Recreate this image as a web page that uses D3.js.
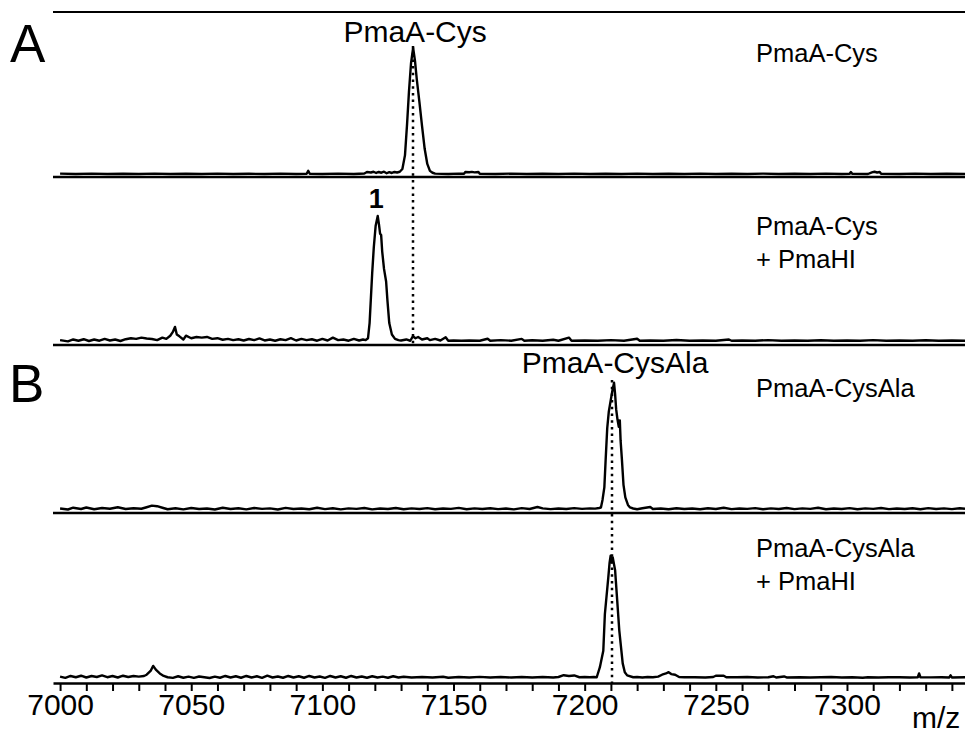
<!DOCTYPE html>
<html>
<head>
<meta charset="utf-8">
<script src="https://cdn.jsdelivr.net/npm/d3@7/dist/d3.min.js"></script>
<style>
  body { margin: 0; background: #fff; }
  svg text { font-family: "Liberation Sans", Arial, Helvetica, sans-serif; fill: #000; }
</style>
</head>
<body>
<svg id="chart" width="965" height="733"></svg>
<script>
// MALDI spectra, [m/z, relative intensity]
const specCys = [
  [7000,0.3],[7006,0],[7012,0.3],[7018,0],[7024,0.2],[7030,0],[7036,0.3],[7042,0],[7048,0.2],[7054,0],
  [7060,0.3],[7066,0],[7072,0.2],[7078,0],[7084,0.3],[7090,0],[7094,0.2],[7094.6,2.5],[7095.2,0.2],[7100,0],
  [7106,0.3],[7112,0],[7116,0.4],[7117,1.6],[7118.5,1.2],[7119.5,1.8],[7120.5,0.8],[7121.5,1.6],[7122.5,1.0],
  [7123.5,1.8],[7124.5,0.6],[7125.5,1.5],[7126.5,0.8],[7127.5,1.6],[7128.5,1.2],[7129.5,1.8],[7130.5,4],
  [7131.5,15],[7132.3,40],[7133,65],[7133.8,88],[7134.6,100],[7135.3,90],[7136,75],[7137,57],[7138,38],
  [7139,20],[7140,8],[7141,2.5],[7142,1],[7143,0.3],[7148,0],[7152,0.3],[7154,0.2],[7154.5,1.6],[7156,1.4],
  [7157,1.7],[7158,1.3],[7159.5,1.6],[7160,0.2],[7166,0],[7172,0.3],[7178,0],[7184,0.2],[7190,0],[7196,0.3],
  [7202,0],[7208,0.2],[7214,0],[7220,0.3],[7226,0],[7232,0.2],[7238,0],[7244,0.3],[7250,0],[7256,0.2],
  [7262,0],[7268,0.3],[7274,0],[7280,0.2],[7286,0],[7292,0.3],[7298,0],[7301,0.2],[7301.5,1.5],[7302,0.2],
  [7308,0],[7309.5,1.3],[7310.5,1.8],[7311.5,1.2],[7312.5,1.6],[7313,0.2],[7320,0],[7326,0.3],[7332,0],
  [7338,0.2],[7345,0]
];

const specCysHI = [
  [7000,1.5],[7003,0.5],[7005,2],[7007,1],[7009,2.2],[7011,0.8],[7013,2],[7015,1],[7017,2.5],[7019,1.2],
  [7021,2],[7023,0.8],[7025,2.2],[7027,3],[7029,2.5],[7031,3.5],[7033,2.8],[7035,2.4],[7037,1.5],[7039,3.5],
  [7040.5,2.5],[7042,5],[7043,8],[7043.8,12],[7044.5,6],[7045.5,4.5],[7047,2],[7048,5],[7050,3],[7052,4],
  [7054,3.5],[7056,4],[7058,2.5],[7060,3],[7062,1.8],[7064,2.5],[7066,1.5],[7068,2.2],[7070,1.2],[7072,2.4],
  [7074,1.5],[7076,2.8],[7078,1.2],[7080,2],[7082,1],[7084,2.2],[7086,1.5],[7088,3],[7090,1.2],[7092,2.5],
  [7094,1.5],[7096,2.2],[7098,1],[7100,2.5],[7102,1.2],[7104,3.5],[7106,1.5],[7108,2],[7110,1],[7112,2.5],
  [7114,1.2],[7115.5,2],[7116.5,1.5],[7117.4,3],[7118,15],[7118.5,35],[7119,55],[7119.6,75],[7120.3,92],
  [7121.1,100],[7121.6,93],[7122,86],[7122.4,85],[7122.8,72],[7123.5,58],[7124.3,48],[7124.8,33],[7125.5,15],
  [7126.5,6],[7127.7,2.5],[7129,1.5],[7130,1.2],[7132,2],[7133.5,1],[7134.5,4.5],[7135.5,3],[7136.5,4],
  [7138,2],[7140,3],[7141,1.5],[7143,2.5],[7145,1.2],[7147,3.8],[7148,1],[7150,1.2],[7153,1],[7156,1.2],
  [7160,1],[7163,2.6],[7164,1],[7168,1.5],[7172,1],[7176,2.5],[7177,1],[7180,1.4],[7184,1],[7188,1.8],
  [7190,1],[7194,3.5],[7195,1],[7200,1.2],[7205,1],[7210,1.5],[7215,1],[7220,2.6],[7221,1],[7225,1.2],
  [7230,1],[7235,1.6],[7240,1],[7245,1.2],[7250,1],[7255,2],[7256,1],[7260,1.2],[7265,1],[7270,1.5],
  [7275,1],[7280,1.2],[7285,1],[7290,1.4],[7295,1],[7300,1.2],[7305,1],[7310,1.5],[7315,1],[7320,1.2],
  [7325,1],[7330,1.4],[7335,1],[7340,1.2],[7345,1]
];

const specAla = [
  [7000,1.2],[7003,0.4],[7005,1.8],[7008,0.8],[7010,2],[7013,0.6],[7016,1.6],[7019,1],[7022,2.2],[7025,0.8],
  [7028,1.4],[7031,1],[7033,2.2],[7035,3.5],[7037,3],[7039,1.8],[7041,0.6],[7044,1.4],[7047,0.5],[7050,1.6],
  [7053,0.8],[7056,1.2],[7059,0.4],[7062,1.8],[7065,0.8],[7068,1.4],[7071,0.5],[7074,1.6],[7077,0.9],[7080,1.3],
  [7083,0.4],[7086,1.7],[7089,0.8],[7092,1.2],[7095,0.6],[7098,1.8],[7101,0.7],[7104,1.4],[7107,0.5],[7110,1.3],
  [7113,0.9],[7116,1.6],[7119,0.5],[7122,1.2],[7125,0.8],[7128,1.6],[7131,0.6],[7134,1.3],[7137,0.8],[7140,1.5],
  [7143,0.6],[7146,1.2],[7149,0.9],[7152,1.7],[7155,0.6],[7158,1.3],[7161,0.8],[7164,1.4],[7167,0.7],[7170,1.2],
  [7173,0.5],[7176,1.5],[7179,0.8],[7182,2.4],[7184,1.3],[7187,0.7],[7190,1.2],[7193,0.8],[7196,1.5],[7199,0.9],
  [7202,1.3],[7204,1.1],[7205.5,1.6],[7206.2,2],[7206.8,8],[7207.5,18],[7208,40],[7208.6,65],[7209.2,78],
  [7210,88],[7210.6,95],[7211.2,101],[7211.6,92],[7212,80],[7212.5,72],[7213,66],[7213.4,71],[7213.7,55],
  [7214.2,40],[7214.8,20],[7215.5,10],[7216.5,4],[7217.3,2],[7218.5,1.2],[7220,0.6],[7222,1.4],[7225,2.4],
  [7226,0.8],[7229,1.2],[7232,0.6],[7235,1.4],[7238,0.8],[7241,1.2],[7244,0.6],[7247,1.4],[7250,0.8],[7253,1.8],
  [7256,0.7],[7259,1.2],[7262,0.9],[7265,1.5],[7268,0.6],[7271,1.3],[7274,0.8],[7277,1.6],[7280,0.7],[7283,1.3],
  [7286,0.9],[7289,1.8],[7292,0.6],[7295,1.2],[7298,0.8],[7301,1.5],[7304,0.6],[7307,1.3],[7310,0.9],[7313,1.6],
  [7316,0.7],[7319,1.2],[7322,0.8],[7325,1.4],[7328,0.6],[7331,1.5],[7334,0.8],[7337,1.3],[7340,0.7],[7343,1.4],
  [7345,1]
];

const specAlaHI = [
  [7000,1.5],[7002,0.5],[7004,2],[7006,1],[7008,2.2],[7010,0.8],[7012,2],[7014,1.2],[7016,2.5],[7018,1],
  [7020,2],[7022,0.8],[7024,2.2],[7026,1.2],[7028,2],[7030,1.5],[7032,2],[7033,3],[7034.5,6],[7035.5,10],
  [7036.5,7],[7038,4],[7039.5,2],[7041,1],[7043,0.5],[7045,1.8],[7047,0.6],[7049,1.5],[7051,0.5],[7053,1.6],
  [7055,1],[7057,0.4],[7059,1.5],[7061,0.6],[7063,2],[7065,0.8],[7067,1.8],[7069,0.6],[7071,2],[7073,0.8],
  [7075,1.8],[7077,0.5],[7079,2.2],[7081,0.8],[7083,1.6],[7085,0.6],[7087,2],[7089,0.8],[7091,1.8],[7093,0.6],
  [7095,2],[7097,0.8],[7099,1.6],[7101,0.5],[7103,2],[7105,0.8],[7107,1.8],[7109,0.6],[7111,2],[7113,0.8],
  [7115,1.6],[7117,0.6],[7119,1.8],[7121,0.8],[7123,1.5],[7125,0.6],[7127,1.8],[7129,0.8],[7131,1.4],[7134,0.8],
  [7138,1.2],[7142,0.8],[7146,1.4],[7148,0.6],[7152,1.2],[7156,0.8],[7160,1.3],[7164,0.8],[7168,1.2],[7172,0.8],
  [7176,1.2],[7180,0.8],[7184,1.2],[7188,0.8],[7190,1.2],[7192,2.6],[7194,2],[7196,2.4],[7198,1],[7200,1.2],
  [7202,1],[7203.5,1.2],[7204.6,1],[7205.8,9],[7207.1,22],[7207.7,51],[7209,80],[7209.5,92],[7209.9,97.5],
  [7210.3,92],[7210.7,96],[7211.6,86],[7212.4,62],[7213.2,38],[7214.5,12],[7215.3,5],[7216.2,2.5],[7218.5,1],
  [7220,1.2],[7222,0.8],[7224,1.2],[7226,1],[7228,1.5],[7229.5,3],[7231,4],[7232,5],[7233,3.5],[7234.5,3],
  [7236,1.2],[7238,1],[7242,1],[7246,0.8],[7249,1.2],[7250,2.2],[7253,2.2],[7254,1],[7258,1],[7262,1.2],
  [7266,0.8],[7270,1],[7272,1.8],[7273,0.8],[7276,1.6],[7277,0.8],[7282,1],[7286,0.8],[7290,1],[7294,1.2],
  [7298,0.8],[7302,1],[7306,0.6],[7308,1],[7312,0.8],[7316,1],[7320,1],[7324,0.8],[7327,1],[7327.5,4],
  [7328,1],[7332,0.9],[7336,1],[7339,0.8],[7339.5,2.5],[7340,0.8],[7345,1]
];

const sampleLabels = [["PmaA-Cys"], ["PmaA-Cys", "+ PmaHI"], ["PmaA-CysAla"], ["PmaA-CysAla", "+ PmaHI"]];
const peakNames = ["PmaA-Cys", "1", "PmaA-CysAla"];
const peakMz = [7134.6, 7121.1, 7211.2];
const refMz = [7134.6, 7210.4];       // dotted guides, section A and B
const sectionNames = ["A", "B"];
const tickLabels = [7000, 7050, 7100, 7150, 7200, 7250, 7300];
const axisTitle = "m/z";

const svg = d3.select('#chart');

const xScale = d3.scaleLinear()
  .domain([6997.3, 7345])
  .range([53, 965]);

// one strip per spectrum: axis line y, spectrum baseline y
const panels = [
  { spec: specCys,   axisY: 177, base: 174,   labelY: [62] },
  { spec: specCysHI, axisY: 345, base: 342,   labelY: [235, 268] },
  { spec: specAla,   axisY: 513, base: 510,   labelY: [397] },
  { spec: specAlaHI, axisY: 683, base: 678.5, labelY: [557, 590] }
];

const line = d3.line()
  .x(d => xScale(d[0]))
  .y(d => d[1]);

// top border
svg.append('line')
  .attr('x1', 53).attr('x2', 965)
  .attr('y1', 12).attr('y2', 12)
  .attr('stroke', '#000').attr('stroke-width', 2);

panels.forEach((p, i) => {
  const yScale = d3.scaleLinear().domain([0, 100]).range([p.base, p.base - 126]);

  if (i < panels.length - 1) {
    svg.append('line')
      .attr('x1', 53).attr('x2', 965)
      .attr('y1', p.axisY).attr('y2', p.axisY)
      .attr('stroke', '#000').attr('stroke-width', 2.4);
  }

  svg.append('path')
    .datum(p.spec.map(d => [d[0], yScale(d[1])]))
    .attr('d', line)
    .attr('fill', 'none')
    .attr('stroke', '#000')
    .attr('stroke-width', 2.4)
    .attr('stroke-linejoin', 'round');

  svg.selectAll(null)
    .data(sampleLabels[i])
    .join('text')
    .attr('x', 756)
    .attr('y', (d, j) => p.labelY[j])
    .attr('font-size', 25.5)
    .text(d => d);
});

// bottom axis
const xAxis = d3.axisBottom(xScale)
  .tickValues(d3.range(7000, 7341, 10))
  .tickSize(8)
  .tickSizeOuter(0)
  .tickPadding(3)
  .tickFormat(d => tickLabels.includes(d) ? d : '');

const axisG = svg.append('g')
  .attr('transform', `translate(0,${panels[3].axisY})`)
  .call(xAxis);
axisG.select('.domain').attr('stroke-width', 2.4);
axisG.selectAll('.tick line').attr('stroke-width', 2);
axisG.selectAll('.tick text')
  .attr('font-size', 30)
  .attr('font-family', '"Liberation Sans", Arial, sans-serif');

svg.append('text')
  .attr('x', 912).attr('y', 728)
  .attr('font-size', 30)
  .text(axisTitle);

// dotted guides through the parent peaks
[[0, 1], [2, 3]].forEach((pair, k) => {
  const x = Math.round(xScale(refMz[k]));
  svg.append('line')
    .attr('x1', x).attr('x2', x)
    .attr('y1', k === 0 ? 46 : 380)
    .attr('y2', panels[pair[1]].axisY)
    .attr('stroke', '#000')
    .attr('stroke-width', 2.5)
    .attr('stroke-dasharray', '2.5,4.2');
});

// peak annotations
svg.append('text')
  .attr('x', xScale(peakMz[0]) + 2).attr('y', 42)
  .attr('text-anchor', 'middle').attr('font-size', 30)
  .text(peakNames[0]);
svg.append('text')
  .attr('x', xScale(peakMz[1]) - 1.5).attr('y', 208)
  .attr('text-anchor', 'middle').attr('font-size', 27).attr('font-weight', 'bold')
  .text(peakNames[1]);
svg.append('text')
  .attr('x', xScale(peakMz[2]) + 1).attr('y', 373)
  .attr('text-anchor', 'middle').attr('font-size', 30)
  .text(peakNames[2]);

// section letters
svg.append('text').attr('x', 10).attr('y', 62).attr('font-size', 53).text(sectionNames[0]);
svg.append('text').attr('x', 9).attr('y', 402).attr('font-size', 53).text(sectionNames[1]);
</script>
</body>
</html>
